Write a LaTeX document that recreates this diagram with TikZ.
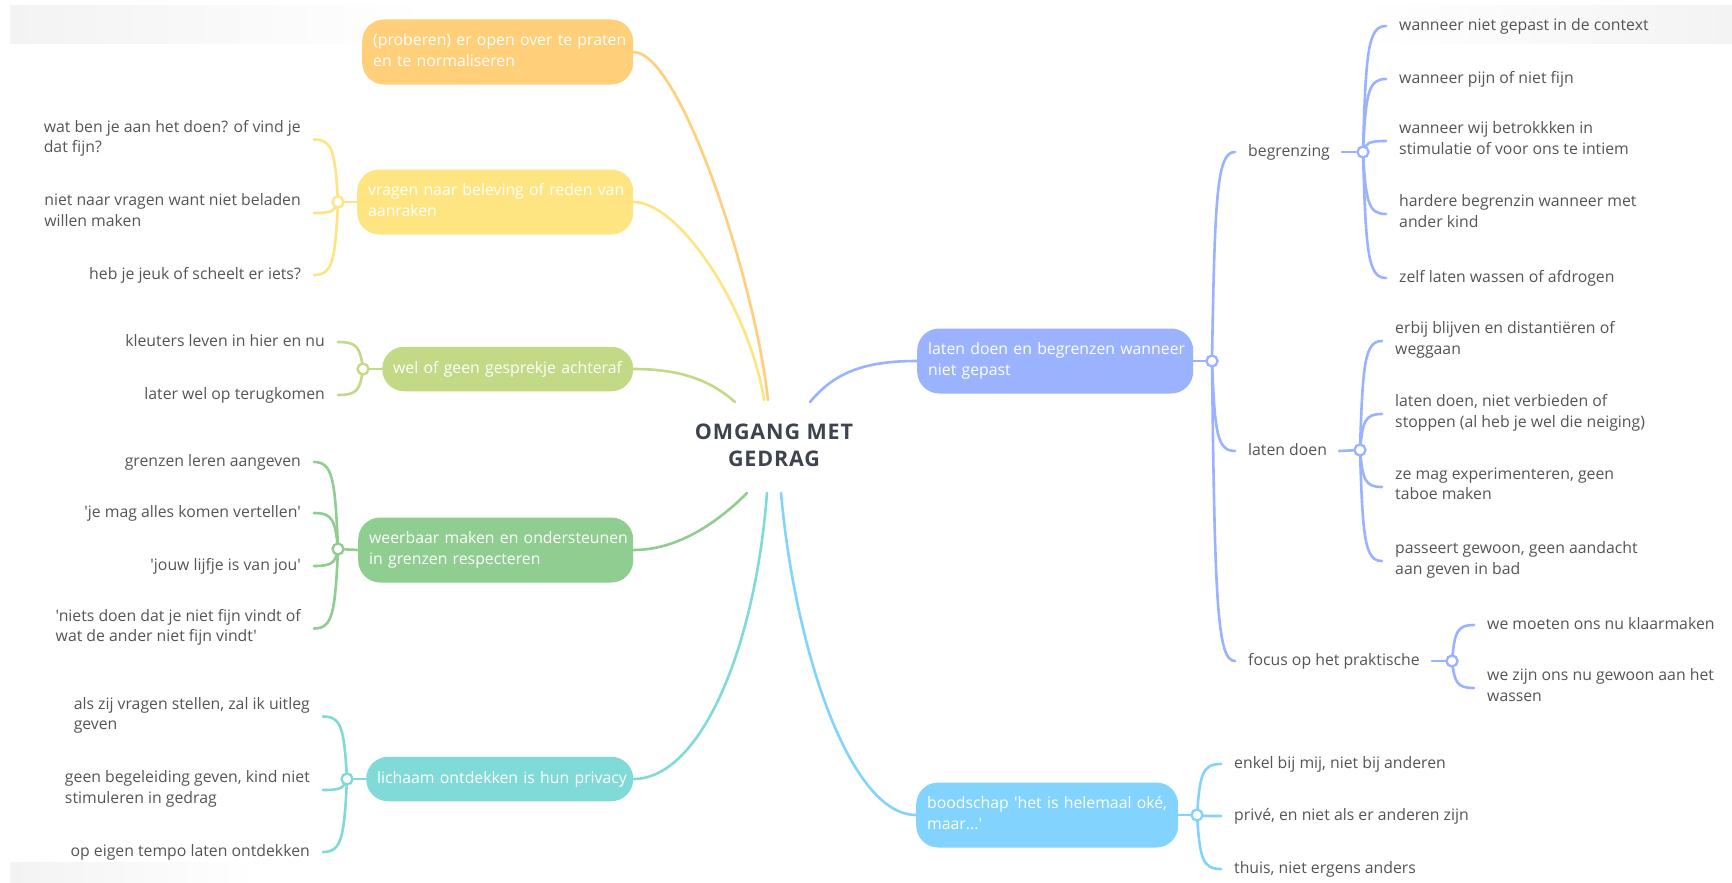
\documentclass[tikz,border=0pt]{standalone}
\usepackage{fontspec}
\usetikzlibrary{calc,backgrounds}
\newfontfamily\ofont{Open Sans}
\newfontfamily\cfont{Open Sans}[LetterSpace=4]
\newcommand\bfnt{\ofont\fontsize{15.8pt}{20.5pt}\selectfont}
\newcommand\cfnt{\cfont\bfseries\fontsize{21.5pt}{27pt}\selectfont}
\definecolor{cOr}{HTML}{FFCF7A}
\definecolor{cYe}{HTML}{FFE482}
\definecolor{cLg}{HTML}{C2DA86}
\definecolor{cGr}{HTML}{90CD90}
\definecolor{cTe}{HTML}{80DAD8}
\definecolor{cBl}{HTML}{9BB2FF}
\definecolor{cLb}{HTML}{82D4FF}
\definecolor{cLeaf}{HTML}{555555}
\definecolor{cDark}{HTML}{3D4450}
\definecolor{cShade}{HTML}{F3F3F3}
\newcommand\lbranch[3]{%
  \draw[conn,#3] let \p1=(#1.center), \p2=($(#2.east)+(13,0)$), \n1={\x1-\x2} in
    (\p1) .. controls ({\x1-0.12*\n1},{\y1+0.8*(\y2-\y1)}) and ({\x1-0.22*\n1},\y2) .. (\p2);}
\newcommand\rbranch[3]{%
  \draw[conn,#3] let \p1=(#1.center), \p2=($(#2.west)+(-13,0)$), \n1={\x2-\x1} in
    (\p1) .. controls ({\x1+0.12*\n1},{\y1+0.8*(\y2-\y1)}) and ({\x1+0.22*\n1},\y2) .. (\p2);}
\begin{document}
\begin{tikzpicture}[x=1pt,y=-1pt,
  conn/.style={line width=2.6pt, line cap=round},
  box/.style={fill=#1, rounded corners=22pt, text=white, align=left, inner xsep=11pt, inner ysep=12pt,
    anchor=west, font=\bfnt, execute at begin node=\strut, execute at end node=\strut},
  leafL/.style={anchor=east, align=left, inner sep=0pt, text=cLeaf, font=\bfnt,
    execute at begin node=\strut, execute at end node=\strut},
  leafR/.style={anchor=west, align=left, inner sep=0pt, text=cLeaf, font=\bfnt,
    execute at begin node=\strut, execute at end node=\strut},
  knot/.style={circle, draw=#1, fill=white, line width=2.3pt, minimum size=11pt, inner sep=0pt}]
\useasboundingbox (0,0) rectangle (1732,883);

% main boxes
\node[box=cOr, text width=249pt] (b1) at (362,52) {\mbox{(proberen) er open over te praten}\\\mbox{en te normaliseren}};
\node[box=cYe, text width=254pt] (b2) at (357,202) {\mbox{vragen naar beleving of reden van}\\\mbox{aanraken}};
\node[box=cLg, text width=229pt] (b3) at (382,369) {\mbox{wel of geen gesprekje achteraf}};
\node[box=cGr, text width=253pt] (b4) at (358,550) {\mbox{weerbaar maken en ondersteunen}\\\mbox{in grenzen respecteren}};
\node[box=cTe, text width=245pt] (b5) at (366,779) {\mbox{lichaam ontdekken is hun privacy}};
\node[box=cBl, text width=254pt] (b6) at (917,361) {\mbox{laten doen en begrenzen wanneer}\\\mbox{niet gepast}};
\node[box=cLb, text width=240pt] (b7) at (916,815) {\mbox{boodschap 'het is helemaal oké,}\\\mbox{maar...'}};

% centre
\node[font=\cfnt, text=cDark, align=center, inner sep=0pt,
  execute at begin node=\strut, execute at end node=\strut] (ctr) at (774,449) {OMGANG MET\\GEDRAG};
\coordinate (m1) at (768,400);
\coordinate (m2) at (764,400);
\coordinate (m3) at (735,402);
\coordinate (m4) at (810,402);
\coordinate (m5) at (747,493);
\coordinate (m6) at (767,493);
\coordinate (m7) at (781,493);

% knots
\node[knot=cYe] (k2) at (338,202) {};
\node[knot=cLg] (k3) at (363,369) {};
\node[knot=cGr] (k4) at (338,549) {};
\node[knot=cTe] (k5) at (347,779) {};
\node[knot=cBl] (k6) at (1212,361) {};
\node[knot=cLb] (k7) at (1197,815) {};
\node[knot=cBl] (kbg) at (1363,152) {};
\node[knot=cBl] (kld) at (1360,450) {};
\node[knot=cBl] (kfo) at (1452,661) {};

% left leaves
\node[leafL] (L1) at (301,139.5) {wat ben je aan het doen? of vind je\\dat fijn?};
\node[leafL] (L2) at (301,213) {niet naar vragen want niet beladen\\willen maken};
\node[leafL] (L3) at (301,275) {heb je jeuk of scheelt er iets?};
\node[leafL] (L4) at (325,342) {kleuters leven in hier en nu};
\node[leafL] (L5) at (325,395) {later wel op terugkomen};
\node[leafL] (L6) at (301,462) {grenzen leren aangeven};
\node[leafL] (L7) at (301,513) {'je mag alles komen vertellen'};
\node[leafL] (L8) at (301,566) {'jouw lijfje is van jou'};
\node[leafL] (L9) at (301,628.5) {'niets doen dat je niet fijn vindt of\\wat de ander niet fijn vindt'};
\node[leafL] (L10) at (310,716.5) {als zij vragen stellen, zal ik uitleg\\geven};
\node[leafL] (L11) at (310,790) {geen begeleiding geven, kind niet\\stimuleren in gedrag};
\node[leafL] (L12) at (310,852) {op eigen tempo laten ontdekken};

% right leaves
\node[leafR] (R1) at (1248,152) {begrenzing};
\node[leafR] (R2) at (1248,451) {laten doen};
\node[leafR] (R3) at (1248,661) {focus op het praktische};
\node[leafR] (R11) at (1399,26) {wanneer niet gepast in de context};
\node[leafR] (R12) at (1399,79) {wanneer pijn of niet fijn};
\node[leafR] (R13) at (1399,141) {wanneer wij betrokkken in\\stimulatie of voor ons te intiem};
\node[leafR] (R14) at (1399,214) {hardere begrenzin wanneer met\\ander kind};
\node[leafR] (R15) at (1399,278) {zelf laten wassen of afdrogen};
\node[leafR] (R21) at (1395,341) {erbij blijven en distantiëren of\\weggaan};
\node[leafR] (R22) at (1395,414) {laten doen, niet verbieden of\\stoppen (al heb je wel die neiging)};
\node[leafR] (R23) at (1395,487) {ze mag experimenteren, geen\\taboe maken};
\node[leafR] (R24) at (1395,561) {passeert gewoon, geen aandacht\\aan geven in bad};
\node[leafR] (R31) at (1487,625) {we moeten ons nu klaarmaken};
\node[leafR] (R32) at (1487,688) {we zijn ons nu gewoon aan het\\wassen};
\node[leafR] (R41) at (1234,764) {enkel bij mij, niet bij anderen};
\node[leafR] (R42) at (1234,816) {privé, en niet als er anderen zijn};
\node[leafR] (R43) at (1234,869) {thuis, niet ergens anders};

\begin{scope}[on background layer]
\fill[white] (0,0) rectangle (1732,883);
\shade[left color=cShade, right color=white] (10,6) rectangle (430,44);
\shade[left color=white, right color=cShade] (1360,6) rectangle (1732,44);
\shade[left color=cShade, right color=white] (10,862) rectangle (260,883);

% main connectors
\draw[conn,cOr] (b1.east) .. controls (680,52) and (755,280) .. (m1);
\draw[conn,cYe] (b2.east) .. controls (680,202) and (750,310) .. (m2);
\draw[conn,cLg] (b3.east) .. controls (680,369) and (710,380) .. (m3);
\draw[conn,cGr] (b4.east) .. controls (680,550) and (720,520) .. (m5);
\draw[conn,cTe] (b5.east) .. controls (700,779) and (755,650) .. (m6);
\draw[conn,cBl] (b6.west) .. controls (865,361) and (835,372) .. (m4);
\draw[conn,cLb] (b7.west) .. controls (850,815) and (795,650) .. (m7);

% stubs
\draw[conn,cYe] (k2) -- (b2.west);
\draw[conn,cLg] (k3) -- (b3.west);
\draw[conn,cGr] (k4) -- (b4.west);
\draw[conn,cTe] (k5) -- (b5.west);
\draw[conn,cBl] (b6.east) -- (k6);
\draw[conn,cLb] (b7.east) -- (k7);
\draw[conn,cBl] ($(R1.east)+(12,0)$) -- (kbg);
\draw[conn,cBl] ($(R2.east)+(12,0)$) -- (kld);
\draw[conn,cBl] ($(R3.east)+(12,0)$) -- (kfo);

% branches
\lbranch{k2}{L1}{cYe}\lbranch{k2}{L2}{cYe}\lbranch{k2}{L3}{cYe}
\lbranch{k3}{L4}{cLg}\lbranch{k3}{L5}{cLg}
\lbranch{k4}{L6}{cGr}\lbranch{k4}{L7}{cGr}\lbranch{k4}{L8}{cGr}\lbranch{k4}{L9}{cGr}
\lbranch{k5}{L10}{cTe}\lbranch{k5}{L11}{cTe}\lbranch{k5}{L12}{cTe}
\rbranch{k6}{R1}{cBl}\rbranch{k6}{R2}{cBl}\rbranch{k6}{R3}{cBl}
\rbranch{kbg}{R11}{cBl}\rbranch{kbg}{R12}{cBl}\rbranch{kbg}{R13}{cBl}\rbranch{kbg}{R14}{cBl}\rbranch{kbg}{R15}{cBl}
\rbranch{kld}{R21}{cBl}\rbranch{kld}{R22}{cBl}\rbranch{kld}{R23}{cBl}\rbranch{kld}{R24}{cBl}
\rbranch{kfo}{R31}{cBl}\rbranch{kfo}{R32}{cBl}
\rbranch{k7}{R41}{cLb}\rbranch{k7}{R42}{cLb}\rbranch{k7}{R43}{cLb}
\end{scope}
\end{tikzpicture}
\end{document}
